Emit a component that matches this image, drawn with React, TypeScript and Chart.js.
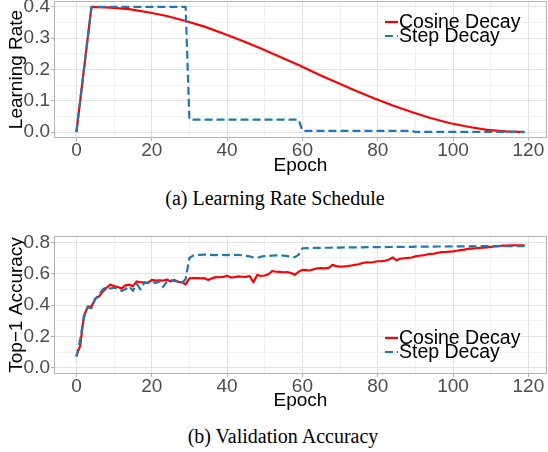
import React, { useEffect, useRef } from "react";
import { Chart, registerables } from "chart.js";

Chart.register(...registerables);

const SANS = "'Liberation Sans', Arial, Helvetica, sans-serif";
const SERIF = "'Liberation Serif', 'Times New Roman', serif";

// ---------- data: (a) learning rate schedule ----------
const lrCosineEpochs = [0, 4, 9, 14, 19, 24, 29, 34, 39, 44, 49, 54, 59, 64, 69, 74, 79, 84, 89, 94, 99, 104, 109, 114, 119];
const lrCosineValues = [0, 0.4, 0.398, 0.393, 0.383, 0.371, 0.355, 0.337, 0.315, 0.292, 0.267, 0.241, 0.214, 0.186, 0.159, 0.133, 0.108, 0.085, 0.064, 0.045, 0.029, 0.017, 0.007, 0.002, 0.0];
const lrStepEpochs = [0, 4, 29, 30, 59, 60, 89, 90, 119];
const lrStepValues = [0, 0.4, 0.4, 0.04, 0.04, 0.004, 0.004, 0.0004, 0.0004];

// ---------- data: (b) validation accuracy, one value per epoch 0..119 ----------
const accCosine = [
  0.075, 0.14, 0.33, 0.39, 0.39, 0.44, 0.455, 0.485, 0.51, 0.53,
  0.52, 0.515, 0.505, 0.525, 0.53, 0.52, 0.55, 0.545, 0.545, 0.54,
  0.56, 0.555, 0.558, 0.555, 0.562, 0.55, 0.56, 0.548, 0.545, 0.532,
  0.57, 0.572, 0.572, 0.57, 0.571, 0.56, 0.57, 0.578, 0.577, 0.579,
  0.587, 0.576, 0.578, 0.582, 0.58, 0.579, 0.585, 0.545, 0.592, 0.585,
  0.588, 0.596, 0.617, 0.612, 0.611, 0.609, 0.61, 0.604, 0.592, 0.612,
  0.624, 0.622, 0.62, 0.628, 0.634, 0.635, 0.634, 0.637, 0.656, 0.648,
  0.645, 0.646, 0.648, 0.652, 0.656, 0.66, 0.668, 0.672, 0.671, 0.674,
  0.679, 0.68, 0.682, 0.69, 0.703, 0.685, 0.695, 0.698, 0.7, 0.703,
  0.71, 0.714, 0.716, 0.722, 0.726, 0.728, 0.733, 0.737, 0.738, 0.74,
  0.742, 0.746, 0.75, 0.753, 0.758, 0.76, 0.762, 0.764, 0.766, 0.768,
  0.771, 0.773, 0.776, 0.778, 0.779, 0.78, 0.78, 0.781, 0.781, 0.78,
];
const accStep = [
  0.07, 0.18, 0.32, 0.385, 0.38, 0.44, 0.465, 0.5, 0.515, 0.505,
  0.51, 0.505, 0.49, 0.5, 0.52, 0.49, 0.535, 0.5, 0.54, 0.545,
  0.552, 0.54, 0.55, 0.515, 0.548, 0.56, 0.552, 0.55, 0.54, 0.565,
  0.7, 0.715, 0.72, 0.72, 0.722, 0.72, 0.72, 0.718, 0.72, 0.72,
  0.718, 0.72, 0.719, 0.72, 0.717, 0.713, 0.71, 0.703, 0.7, 0.708,
  0.712, 0.713, 0.715, 0.716, 0.716, 0.715, 0.712, 0.708, 0.705, 0.72,
  0.762, 0.763, 0.763, 0.764, 0.764, 0.765, 0.765, 0.765, 0.766, 0.766,
  0.766, 0.767, 0.767, 0.767, 0.768, 0.768, 0.768, 0.769, 0.768, 0.769,
  0.769, 0.77, 0.769, 0.77, 0.77, 0.77, 0.771, 0.77, 0.771, 0.771,
  0.772, 0.772, 0.772, 0.772, 0.773, 0.772, 0.773, 0.773, 0.773, 0.774,
  0.773, 0.774, 0.774, 0.774, 0.774, 0.775, 0.774, 0.775, 0.775, 0.775,
  0.775, 0.775, 0.776, 0.775, 0.776, 0.776, 0.775, 0.776, 0.776, 0.776,
];

// ---------- axes ----------
const xMajorTicks = [0, 20, 40, 60, 80, 100, 120];
const xMinorTicks = [10, 30, 50, 70, 90, 110];
const lrYMajorTicks = [0, 0.1, 0.2, 0.3, 0.4];
const lrYMinorTicks = [0.05, 0.15, 0.25, 0.35];
const accYMajorTicks = [0, 0.2, 0.4, 0.6, 0.8];
const accYMinorTicks = [0.1, 0.3, 0.5, 0.7];

const seriesLabels = ["Cosine Decay", "Step Decay"];
const captions = ["(a) Learning Rate Schedule", "(b) Validation Accuracy"];
const yTitles = ["Learning Rate", "Top\u22121 Accuracy"];
const xTitle = "Epoch";

const RED = "#ff0000";
const BLUE = "#1f78b4";
const GRID_MAJOR = "#e3e3e3";
const GRID_MINOR = "#f0f0f0";
const BORDER = "#b3b3b3";
const TICK_TEXT = "#4d4d4d";

const pairs = (xs: number[], ys: number[]) => xs.map((x, i) => ({ x, y: ys[i] }));
const byEpoch = (ys: number[]) => ys.map((y, i) => ({ x: i, y }));

const decoPlugin = {
  id: "deco",
  afterDatasetsDraw(chart: any, _args: any, opts: any) {
    const { ctx, chartArea: a } = chart;
    ctx.save();
    ctx.strokeStyle = BORDER;
    ctx.lineWidth = 1;
    ctx.strokeRect(Math.round(a.left) + 0.5, Math.round(a.top) + 0.5, Math.round(a.width) - 1, Math.round(a.height) - 1);

    const y0 = opts.anchor === "top" ? a.top + opts.dy : a.bottom - opts.dy;
    const lineX = a.right - 162;
    const textX = a.right - 148;
    ctx.font = `19.5px ${SANS}`;
    ctx.textBaseline = "middle";
    ctx.textAlign = "left";
    const dss = chart.data.datasets;
    dss.forEach((ds: any, i: number) => {
      const y = y0 + i * 14;
      ctx.beginPath();
      ctx.setLineDash(ds.borderDash || []);
      ctx.strokeStyle = ds.borderColor;
      ctx.lineWidth = ds.borderWidth;
      ctx.moveTo(lineX, y);
      ctx.lineTo(lineX + 13, y);
      ctx.stroke();
      ctx.setLineDash([]);
      ctx.fillStyle = "#000";
      ctx.fillText(ds.label, textX, y + 1);
    });
    ctx.restore();
  },
};

type PanelProps = {
  top: number;
  height: number;
  xAxisHeight: number;
  datasets: any[];
  yMin: number;
  yMax: number;
  yMajor: number[];
  yMinor: number[];
  yTitle: string;
  legendAnchor: "top" | "bottom";
  legendDy: number;
};

function Panel(p: PanelProps) {
  const ref = useRef<HTMLCanvasElement>(null);
  useEffect(() => {
    const xAll = [...xMajorTicks, ...xMinorTicks].sort((a, b) => a - b);
    const yAll = [...p.yMajor, ...p.yMinor].sort((a, b) => a - b);
    const chart = new Chart(ref.current as HTMLCanvasElement, {
      type: "line",
      data: { datasets: p.datasets },
      options: {
        animation: false,
        responsive: false,
        maintainAspectRatio: false,
        layout: { padding: { top: 1, right: 1, left: 0, bottom: 0 } },
        plugins: {
          legend: { display: false },
          tooltip: { enabled: false },
          deco: { anchor: p.legendAnchor, dy: p.legendDy },
        } as any,
        scales: {
          x: {
            type: "linear",
            min: -5.95,
            max: 124.95,
            afterBuildTicks: (axis: any) => {
              axis.ticks = xAll.map((v) => ({ value: v }));
            },
            afterFit: (s: any) => {
              s.height = p.xAxisHeight;
              s.paddingLeft = 0;
              s.paddingRight = 0;
            },
            ticks: {
              autoSkip: false,
              maxRotation: 0,
              padding: -2,
              color: TICK_TEXT,
              font: { family: SANS, size: 19 },
              callback: (v: any) => (xMajorTicks.includes(Number(v)) ? String(v) : ""),
            },
            grid: {
              color: (c: any) => (xMajorTicks.includes(c.tick?.value) ? GRID_MAJOR : GRID_MINOR),
              tickColor: (c: any) => (xMajorTicks.includes(c.tick?.value) ? BORDER : "rgba(0,0,0,0)"),
              tickLength: 3,
            },
            border: { display: false },
            title: {
              display: true,
              text: xTitle,
              color: "#000",
              font: { family: SANS, size: 19 },
              padding: { top: 0, bottom: 3 },
            },
          },
          y: {
            type: "linear",
            min: p.yMin,
            max: p.yMax,
            afterBuildTicks: (axis: any) => {
              axis.ticks = yAll.map((v) => ({ value: v }));
            },
            afterFit: (s: any) => {
              s.width = 54;
              s.paddingTop = 0;
              s.paddingBottom = 0;
            },
            ticks: {
              autoSkip: false,
              padding: 1,
              color: TICK_TEXT,
              font: { family: SANS, size: 19 },
              callback: (v: any) => (p.yMajor.includes(Number(v)) ? Number(v).toFixed(1) : ""),
            },
            grid: {
              color: (c: any) => (p.yMajor.includes(c.tick?.value) ? GRID_MAJOR : GRID_MINOR),
              tickColor: (c: any) => (p.yMajor.includes(c.tick?.value) ? BORDER : "rgba(0,0,0,0)"),
              tickLength: 3,
            },
            border: { display: false },
            title: {
              display: true,
              text: p.yTitle,
              color: "#000",
              font: { family: SANS, size: 19 },
              padding: { top: 5, bottom: 0 },
            },
          },
        },
      },
      plugins: [decoPlugin],
    });
    return () => chart.destroy();
  }, []);
  return (
    <canvas
      ref={ref}
      width={548}
      height={p.height}
      style={{ position: "absolute", left: 0, top: p.top, width: 548, height: p.height }}
    />
  );
}

const lineStyle = { pointRadius: 0, fill: false, tension: 0, borderJoinStyle: "round" as const };

export default function App() {
  const lrDatasets = [
    { label: seriesLabels[0], data: pairs(lrCosineEpochs, lrCosineValues), borderColor: RED, borderWidth: 2.2, order: 1, ...lineStyle },
    { label: seriesLabels[1], data: pairs(lrStepEpochs, lrStepValues), borderColor: BLUE, borderWidth: 2.2, borderDash: [8, 4], order: 0, ...lineStyle },
  ];
  const accDatasets = [
    { label: seriesLabels[0], data: byEpoch(accCosine), borderColor: RED, borderWidth: 2.2, order: 1, ...lineStyle },
    { label: seriesLabels[1], data: byEpoch(accStep), borderColor: BLUE, borderWidth: 2.2, borderDash: [8, 4], order: 0, ...lineStyle },
  ];
  const capStyle = (top: number, left: number): React.CSSProperties => ({
    position: "absolute",
    top,
    left,
    width: 550,
    textAlign: "center",
    fontFamily: SERIF,
    fontSize: 20,
    lineHeight: "24px",
    color: "#000",
    whiteSpace: "nowrap",
  });
  return (
    <div style={{ position: "absolute", left: 0, top: 0, width: 548, height: 452, background: "#fff", overflow: "hidden" }}>
      <Panel
        top={0}
        height={180}
        xAxisHeight={42}
        datasets={lrDatasets}
        yMin={-0.019}
        yMax={0.419}
        yMajor={lrYMajorTicks}
        yMinor={lrYMinorTicks}
        yTitle={yTitles[0]}
        legendAnchor="top"
        legendDy={21}
      />
      <div style={capStyle(186, 0)}>{captions[0]}</div>
      <Panel
        top={235}
        height={180}
        xAxisHeight={41}
        datasets={accDatasets}
        yMin={-0.04}
        yMax={0.84}
        yMajor={accYMajorTicks}
        yMinor={accYMinorTicks}
        yTitle={yTitles[1]}
        legendAnchor="bottom"
        legendDy={36}
      />
      <div style={capStyle(424, 8)}>{captions[1]}</div>
    </div>
  );
}
